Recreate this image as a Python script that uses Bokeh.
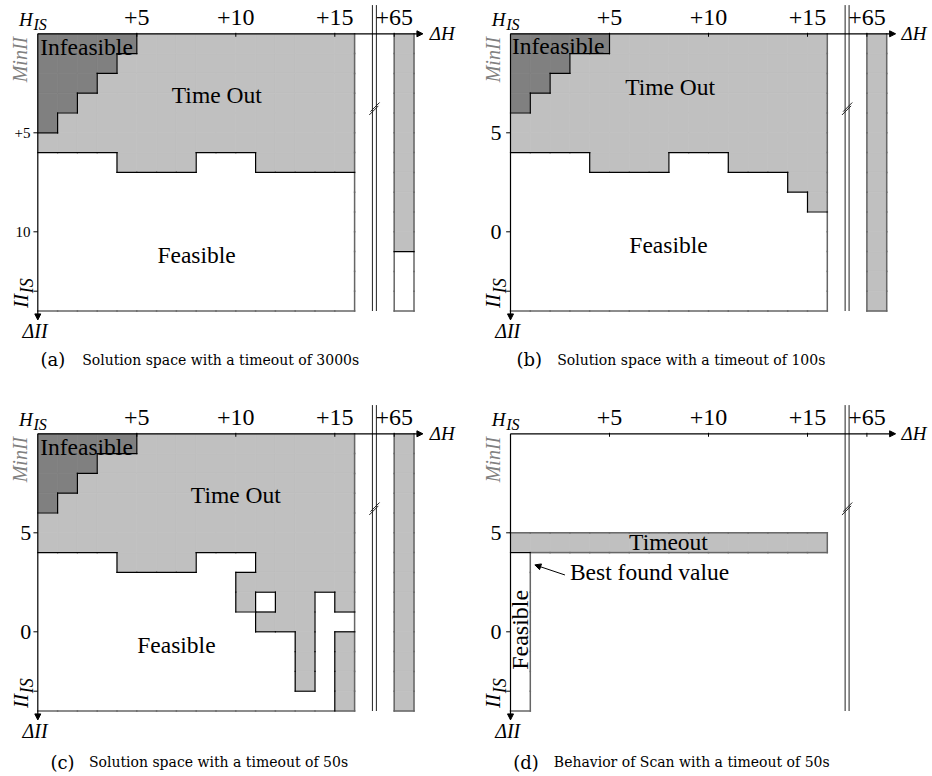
import math
from bokeh.plotting import figure
from bokeh.models import Range1d, ColumnDataSource, Arrow, NormalHead
from bokeh.layouts import gridplot
from bokeh.core.properties import value
from bokeh.embed import file_html
from bokeh.resources import INLINE

# ---------------- data ----------------
# Cell states: rows = ΔII steps below MinII (0..13), columns = ΔH steps (0..15)
# I = infeasible, T = time out, F = feasible, . = not explored
grid_a = [
    "IIIIITTTTTTTTTTT",
    "IIIITTTTTTTTTTTT",
    "IIITTTTTTTTTTTTT",
    "IITTTTTTTTTTTTTT",
    "ITTTTTTTTTTTTTTT",
    "TTTTTTTTTTTTTTTT",
    "FFFFTTTTFFFTTTTT",
    "FFFFFFFFFFFFFFFF",
    "FFFFFFFFFFFFFFFF",
    "FFFFFFFFFFFFFFFF",
    "FFFFFFFFFFFFFFFF",
    "FFFFFFFFFFFFFFFF",
    "FFFFFFFFFFFFFFFF",
    "FFFFFFFFFFFFFFFF",
]
far_a = "TTTTTTTTTTTFFF"  # column at ΔH = +65

grid_b = [
    "IIIIITTTTTTTTTTT",
    "IIITTTTTTTTTTTTT",
    "IITTTTTTTTTTTTTT",
    "ITTTTTTTTTTTTTTT",
    "TTTTTTTTTTTTTTTT",
    "TTTTTTTTTTTTTTTT",
    "FFFFTTTTFFFTTTTT",
    "FFFFFFFFFFFFFFTT",
    "FFFFFFFFFFFFFFFT",
    "FFFFFFFFFFFFFFFF",
    "FFFFFFFFFFFFFFFF",
    "FFFFFFFFFFFFFFFF",
    "FFFFFFFFFFFFFFFF",
    "FFFFFFFFFFFFFFFF",
]
far_b = "TTTTTTTTTTTTTT"

grid_c = [
    "IIIIITTTTTTTTTTT",
    "IIITTTTTTTTTTTTT",
    "IITTTTTTTTTTTTTT",
    "ITTTTTTTTTTTTTTT",
    "TTTTTTTTTTTTTTTT",
    "TTTTTTTTTTTTTTTT",
    "FFFFTTTTFFFTTTTT",
    "FFFFFFFFFFTTTTTT",
    "FFFFFFFFFFTFTTFT",
    "FFFFFFFFFFFTTTFF",
    "FFFFFFFFFFFFFTFT",
    "FFFFFFFFFFFFFTFT",
    "FFFFFFFFFFFFFTFT",
    "FFFFFFFFFFFFFFFT",
]
far_c = "TTTTTTTTTTTTTT"

grid_d = [
    "................",
    "................",
    "................",
    "................",
    "................",
    "TTTTTTTTTTTTTTTT",
    "F...............",
    "F...............",
    "F...............",
    "F...............",
    "F...............",
    "F...............",
    "F...............",
    "F...............",
]
far_d = ".............."

far_column_x = 18
x_tick_pos = [5, 10, 15, 18]
x_tick_labels = ["+5", "+10", "+15", "+65"]
y_tick_pos = [5, 10]
y_tick_labels_a = ["+5", "10"]
y_tick_labels_bcd = ["5", "0"]
y_extra_tick = 13

caption_tags = ["(a)", "(b)", "(c)", "(d)"]
caption_texts = [
    "Solution space with a timeout of 3000s",
    "Solution space with a timeout of 100s",
    "Solution space with a timeout of 50s",
    "Behavior of Scan with a timeout of 50s",
]

state_colors = {"I": "#808080", "T": "#c0c0c0", "F": "#ffffff"}

# ---------------- drawing ----------------
U = 19.8
SERIF = "Liberation Serif"


def txt(p, x, y, s, size, font=SERIF, style="normal", color="black",
        align="center", baseline="middle", angle=0.0):
    p.text(x=[x], y=[y], text=[s], angle=angle,
           text_font=value(font), text_font_size=value(f"{size}px"),
           text_font_style=style, text_color=color,
           text_align=align, text_baseline=baseline)


def make_fig(is_left, is_top):
    w = 466
    h = 400 if is_top else 376
    x0 = -(37.3 if is_left else 44.0) / U
    yt = -33.3 / U
    p = figure(width=w, height=h, x_range=Range1d(x0, x0 + w / U),
               y_range=Range1d(yt + h / U, yt), output_backend="svg",
               toolbar_location=None, x_axis_location=None,
               y_axis_location=None, min_border=0, title=None)
    p.grid.grid_line_color = None
    p.outline_line_color = None
    p.background_fill_color = "white"
    p.border_fill_color = "white"
    return p


def cells_of(grid, far):
    cells = {}
    for r, row in enumerate(grid):
        for c, ch in enumerate(row):
            if ch != ".":
                cells[(c, r)] = ch
    for r, ch in enumerate(far):
        if ch != ".":
            cells[(far_column_x, r)] = ch
    return cells


def draw_cells(p, cells):
    L, R, T, B, col = [], [], [], [], []
    for (c, r), k in cells.items():
        L.append(c); R.append(c + 1); T.append(r); B.append(r + 1)
        col.append(state_colors[k])
    src = ColumnDataSource(dict(left=L, right=R, top=T, bottom=B, color=col))
    p.quad(left="left", right="right", top="top", bottom="bottom", source=src,
           fill_color="color", line_color="color", line_width=0.8)
    inner = dict(x0=[], y0=[], x1=[], y1=[])
    outer = dict(x0=[], y0=[], x1=[], y1=[])
    for (c, r), k in cells.items():
        for dc, dr, seg in [(1, 0, (c + 1, r, c + 1, r + 1)),
                            (0, 1, (c, r + 1, c + 1, r + 1)),
                            (-1, 0, (c, r, c, r + 1)),
                            (0, -1, (c, r, c + 1, r))]:
            n = cells.get((c + dc, r + dr))
            tgt = None
            if n is None:
                if (dc == -1 and c == 0) or (dr == -1 and r == 0):
                    continue
                tgt = outer
            elif n != k and (dc > 0 or dr > 0):
                tgt = inner
            if tgt is not None:
                for key, v in zip(("x0", "y0", "x1", "y1"), seg):
                    tgt[key].append(v)
    p.segment(x0="x0", y0="y0", x1="x1", y1="y1", source=ColumnDataSource(outer),
              line_color="#666666", line_width=1.5, line_cap="square")
    p.segment(x0="x0", y0="y0", x1="x1", y1="y1", source=ColumnDataSource(inner),
              line_color="black", line_width=1.2, line_cap="square")


def draw_axes(p, ylabels, ylab_right, ylab_size, dh_x):
    # break marks
    p.segment(x0=[16.9, 17.1], y0=[-1.45, -1.45], x1=[16.9, 17.1], y1=[14.0, 14.0],
              line_color="#222222", line_width=1)
    p.segment(x0=[16.74, 16.80], y0=[4.10, 3.93], x1=[17.20, 17.26], y1=[3.64, 3.47],
              line_color="#222222", line_width=1)
    # axes with arrows
    p.add_layout(Arrow(end=NormalHead(size=6, fill_color="black", line_color="black", line_width=1),
                       x_start=0, y_start=0, x_end=19.45, y_end=0,
                       line_color="black", line_width=1.2))
    p.add_layout(Arrow(end=NormalHead(size=6, fill_color="black", line_color="black", line_width=1),
                       x_start=0, y_start=0, x_end=0, y_end=14.45,
                       line_color="black", line_width=1.2))
    # ticks
    p.segment(x0=x_tick_pos, y0=[-0.05] * len(x_tick_pos), x1=x_tick_pos,
              y1=[0.15] * len(x_tick_pos), line_color="black", line_width=1)
    yt = y_tick_pos + [y_extra_tick]
    p.segment(x0=[-0.22] * len(yt), y0=yt, x1=[0] * len(yt), y1=yt,
              line_color="black", line_width=1)
    for xv, s in zip(x_tick_pos, x_tick_labels):
        txt(p, xv, -0.8, s, 24)
    for yv, s in zip(y_tick_pos, ylabels):
        txt(p, ylab_right, yv, s, ylab_size, align="right")
    # axis names
    txt(p, -0.6, -0.72, "H", 19, style="italic")
    txt(p, -0.22, -0.45, "IS", 16, style="italic", align="left")
    txt(p, -0.875, 1.3, "MinII", 20, style="italic", color="#808080", angle=math.pi / 2)
    txt(p, -0.86, 13.5, "II", 21, style="italic", angle=math.pi / 2)
    txt(p, -0.55, 13.1, "IS", 18, style="italic", angle=math.pi / 2, align="left")
    txt(p, dh_x, 0.0, "ΔH", 19, style="italic", align="left")
    txt(p, -0.14, 15.0, "ΔII", 20, style="italic")


panel_specs = [
    dict(grid=grid_a, far=far_a, left=True, top=True, yl=y_tick_labels_a, yr=-0.37, ys=15,
         dh=19.8, labels=[("Infeasible", 2.46, 0.65), ("Time Out", 9.04, 3.11), ("Feasible", 8.02, 11.17)],
         tag_x=0.14, cap_x=2.24, cap_y=16.46),
    dict(grid=grid_b, far=far_b, left=False, top=True, yl=y_tick_labels_bcd, yr=-0.45, ys=22,
         dh=19.75, labels=[("Infeasible", 2.41, 0.63), ("Time Out", 8.06, 2.67), ("Feasible", 7.98, 10.66)],
         tag_x=0.30, cap_x=2.36, cap_y=16.46),
    dict(grid=grid_c, far=far_c, left=True, top=False, yl=y_tick_labels_bcd, yr=-0.33, ys=22,
         dh=19.8, labels=[("Infeasible", 2.46, 0.65), ("Time Out", 10.0, 3.11), ("Feasible", 7.0, 10.66)],
         tag_x=0.64, cap_x=2.58, cap_y=16.6),
    dict(grid=grid_d, far=far_d, left=False, top=False, yl=y_tick_labels_bcd, yr=-0.45, ys=22,
         dh=19.75, labels=[("Timeout", 7.98, 5.44)],
         tag_x=0.14, cap_x=2.19, cap_y=16.6),
]

figs = []
for i, spec in enumerate(panel_specs):
    p = make_fig(spec["left"], spec["top"])
    draw_cells(p, cells_of(spec["grid"], spec["far"]))
    draw_axes(p, spec["yl"], spec["yr"], spec["ys"], spec["dh"])
    for s, xv, yv in spec["labels"]:
        txt(p, xv, yv, s, 23.5)
    if i == 3:
        txt(p, 0.48, 9.9, "Feasible", 24, angle=math.pi / 2)
        txt(p, 3.0, 6.96, "Best found value", 23.5, align="left")
        p.add_layout(Arrow(end=NormalHead(size=6, fill_color="black", line_color="black", line_width=1),
                           x_start=2.75, y_start=7.13, x_end=1.23, y_end=6.62,
                           line_color="black", line_width=1))
    txt(p, spec["tag_x"], spec["cap_y"], caption_tags[i], 18, font="DejaVu Serif",
        align="left", baseline="alphabetic")
    txt(p, spec["cap_x"], spec["cap_y"], caption_texts[i], 14, font="DejaVu Serif",
        align="left", baseline="alphabetic")
    figs.append(p)

layout = gridplot([[figs[0], figs[1]], [figs[2], figs[3]]], toolbar_location=None)
open("out.html", "w").write(file_html(layout, INLINE))
